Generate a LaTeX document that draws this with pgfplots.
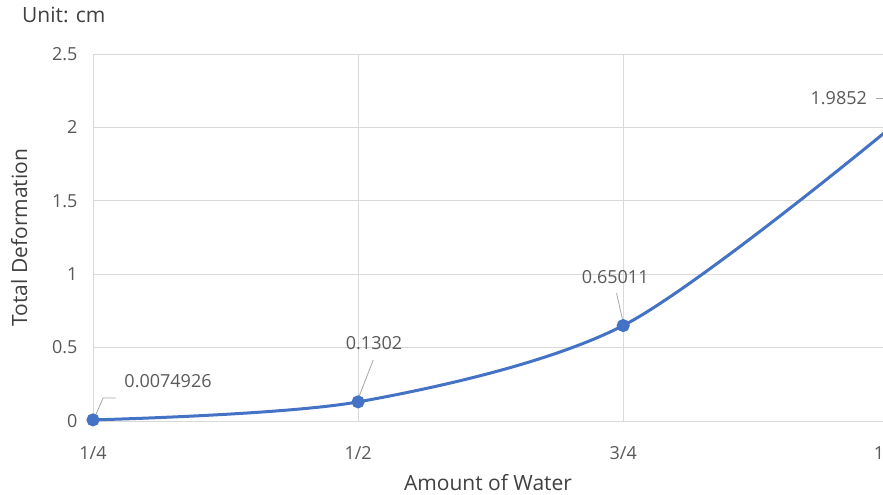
\documentclass[border=0pt]{standalone}
\usepackage{pgfplots}
\pgfplotsset{compat=1.18}
\usepackage{fontspec}
\setmainfont{Open Sans}
\definecolor{txt}{RGB}{89,89,89}
\definecolor{lbl}{RGB}{64,64,64}
\definecolor{grd}{RGB}{217,217,217}
\definecolor{ln}{RGB}{68,114,196}
\begin{document}
\begin{tikzpicture}[x=1pt,y=1pt]
\useasboundingbox (-93,-74) rectangle (790,421);
\begin{axis}[
  at={(0,0)}, anchor=south west,
  scale only axis, width=790pt, height=367pt,
  xmin=0, xmax=2.98, ymin=0, ymax=2.5,
  xtick={0,1,2}, xticklabels={1/4,1/2,3/4},
  extra x ticks={2.965}, extra x tick labels={1},
  extra x tick style={grid=none},
  ytick={0,0.5,1,1.5,2,2.5},
  yticklabels={0,0.5,1,1.5,2,2.5},
  grid=major, major grid style={grd, line width=0.9pt},
  axis line style={draw=none},
  major tick length=0pt,
  tick label style={font=\fontsize{18}{21}\selectfont, text=txt},
  /pgf/number format/assume math mode=true,
  xticklabel style={yshift=-22pt},
  yticklabel style={xshift=-12pt},
  xlabel={Amount of Water}, ylabel={Total Deformation},
  label style={font=\fontsize{21}{24}\selectfont, text=lbl},
  xlabel style={yshift=-8pt},
  ylabel style={yshift=18pt},
  clip=false,
]
\draw[grd, line width=1pt] (axis cs:0,0) -- (axis cs:2.98,0);
\begin{scope}
\clip (axis cs:-0.1,-0.1) rectangle (axis cs:2.98,2.6);
\addplot[ln, line width=3pt, smooth, mark=*, mark size=5pt, mark indices={1,2,3}]
  coordinates {(0,0.0074926) (1,0.1302) (2,0.65011) (3,1.9852)};
\end{scope}
\draw[gray!70, line width=0.8pt] (axis cs:0.01,0.04) -- (axis cs:0.038,0.157) -- (axis cs:0.085,0.157);
\draw[gray!70, line width=0.8pt] (axis cs:1.0,0.15) -- (axis cs:1.057,0.415);
\draw[gray!70, line width=0.8pt] (axis cs:2.0,0.67) -- (axis cs:1.975,0.87);
\draw[gray!70, line width=0.8pt] (axis cs:2.955,2.2) -- (axis cs:2.98,2.2);
\node[anchor=west, text=txt, font=\fontsize{18}{21}\selectfont, inner sep=0pt] at (axis cs:0.118,0.272) {0.0074926};
\node[text=txt, font=\fontsize{18}{21}\selectfont, inner sep=0pt] at (axis cs:1.06,0.531) {0.1302};
\node[text=txt, font=\fontsize{18}{21}\selectfont, inner sep=0pt] at (axis cs:1.97,0.98) {0.65011};
\node[anchor=east, text=txt, font=\fontsize{18}{21}\selectfont, inner sep=0pt] at (axis cs:2.92,2.2) {1.9852};
\end{axis}
\node[anchor=west, text=lbl, font=\fontsize{21}{24}\selectfont, inner sep=0pt] at (-71,406) {Unit: cm};
\end{tikzpicture}
\end{document}
